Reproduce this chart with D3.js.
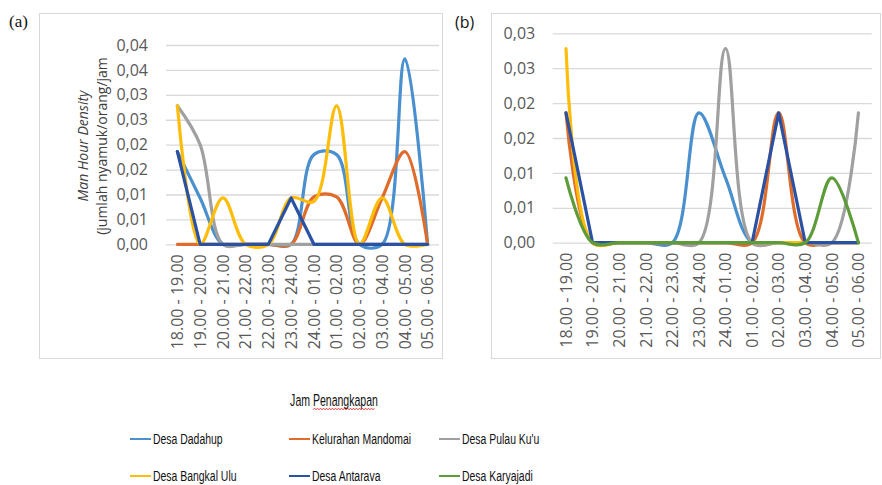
<!DOCTYPE html>
<html>
<head>
<meta charset="utf-8">
<script src="https://cdn.jsdelivr.net/npm/d3@7"></script>
<style>
  body { margin: 0; background: #fff; }
  svg { display: block; }
</style>
</head>
<body>
<svg id="chart" width="882" height="485"></svg>
<script>
// hour slots on the x axis
const categories = ["18.00 - 19.00", "19.00 - 20.00", "20.00 - 21.00", "21.00 - 22.00",
  "22.00 - 23.00", "23.00 - 24.00", "24.00 - 01.00", "01.00 - 02.00",
  "02.00 - 03.00", "03.00 - 04.00", "04.00 - 05.00", "05.00 - 06.00"];

const seriesNames = ["Desa Dadahup", "Kelurahan Mandomai", "Desa Pulau Ku'u",
  "Desa Bangkal Ulu", "Desa Antarava", "Desa Karyajadi"];

// panel (a)
const dadahupA    = [0.0186, 0.0093, 0, 0, 0, 0, 0.018, 0.018, 0, 0, 0.0372, 0];
const mandomaiA   = [0, 0, 0, 0, 0, 0, 0.0095, 0.0095, 0, 0.0093, 0.0186, 0];
const pulauKuuA   = [0.0278, 0.020, 0, 0, 0, 0, 0, 0, 0, 0, 0, 0];
const bangkalUluA = [0.0278, 0, 0.0093, 0, 0, 0.0093, 0.0086, 0.0278, 0, 0.0093, 0, 0];
const antaravaA   = [0.0186, 0, 0, 0, 0, 0.0093, 0, 0, 0, 0, 0, 0];

// panel (b) -- null = no value plotted for that hour
const dadahupB    = [null, 0, 0, 0, 0, 0.0186, 0.0093, 0, 0, 0, 0, 0];
const mandomaiB   = [0.0186, 0, 0, 0, 0, 0, 0, 0, 0.0186, 0, 0, 0];
const pulauKuuB   = [null, 0, 0, 0, 0, 0, 0.0278, 0, 0, 0, 0, 0.0186];
const bangkalUluB = [0.0278, 0, 0, 0, 0, 0, 0, 0, 0, 0, 0, 0];
const antaravaB   = [0.0186, 0, 0, 0, 0, 0, 0, 0, 0.0186, 0, 0, 0];
const karyajadiB  = [0.0093, 0, 0, 0, 0, 0, 0, 0, 0, 0, 0.0093, 0];

// y tick labels as Excel printed them (rounded to 2 decimals)
const tickLabelsA = ["0,00", "0,01", "0,01", "0,02", "0,02", "0,03", "0,03", "0,04", "0,04"];
const tickLabelsB = ["0,00", "0,01", "0,01", "0,02", "0,02", "0,03", "0,03"];

const colors = {
  "Desa Dadahup": "#4a8fce",
  "Kelurahan Mandomai": "#df6c2b",
  "Desa Pulau Ku'u": "#a0a0a0",
  "Desa Bangkal Ulu": "#fdbd0a",
  "Desa Antarava": "#2b51a2",
  "Desa Karyajadi": "#5e9b39"
};
// Antarava is drawn straight, the rest smoothed
const curves = {
  "Desa Antarava": d3.curveLinear
};

const svg = d3.select("#chart");

function drawPanel(cfg) {
  const g = svg.append("g");

  // chart frame
  g.append("rect")
    .attr("x", cfg.box[0] + 0.5).attr("y", cfg.box[1] + 0.5)
    .attr("width", cfg.box[2]).attr("height", cfg.box[3])
    .attr("fill", "#fff").attr("stroke", "#d9d9d9");

  g.append("text")
    .attr("x", cfg.tagPos[0]).attr("y", cfg.tagPos[1])
    .attr("font-family", cfg.tagFont).attr("font-size", cfg.tagSize)
    .attr("fill", "#111")
    .text(cfg.tag);

  const x = d3.scaleBand().domain(categories).range(cfg.xRange);
  const y = d3.scaleLinear().domain([0, cfg.yMax]).range(cfg.yRange);
  const tickVals = d3.range(cfg.tickLabels.length).map(i => i * 0.005);

  // gridlines
  g.append("g")
    .attr("transform", `translate(${cfg.xRange[0]},0)`)
    .call(d3.axisLeft(y).tickValues(tickVals).tickSize(-(cfg.xRange[1] - cfg.xRange[0])).tickFormat(""))
    .call(a => a.select(".domain").remove())
    .call(a => a.selectAll("line").attr("stroke", "#d9d9d9").attr("stroke-width", 1.3));

  // y labels
  g.append("g")
    .attr("transform", `translate(${cfg.xRange[0]},0)`)
    .call(d3.axisLeft(y).tickValues(tickVals).tickSize(0).tickPadding(cfg.yPad)
      .tickFormat((d, i) => cfg.tickLabels[i]))
    .call(a => a.select(".domain").remove())
    .call(a => a.selectAll("text")
      .attr("font-family", "'Open Sans', sans-serif")
      .attr("font-size", 16).attr("fill", "#595959"));

  // x labels, rotated
  g.append("g")
    .attr("transform", `translate(0,${cfg.yRange[0]})`)
    .call(d3.axisBottom(x).tickSize(0))
    .call(a => a.select(".domain").remove())
    .call(a => a.selectAll("text")
      .attr("transform", "rotate(-90)")
      .attr("text-anchor", "end")
      .attr("x", -10).attr("y", 0).attr("dy", "0.36em")
      .attr("font-family", "'Open Sans', sans-serif")
      .attr("font-size", 16).attr("fill", "#595959"));

  const cx = c => x(c) + x.bandwidth() / 2;

  cfg.series.forEach(s => {
    const line = d3.line()
      .defined(d => d !== null)
      .x((d, i) => cx(categories[i]))
      .y(d => y(d))
      .curve(curves[s.name] || d3.curveCatmullRom.alpha(0.5));
    g.append("path")
      .datum(s.values)
      .attr("d", line)
      .attr("fill", "none")
      .attr("stroke", colors[s.name])
      .attr("stroke-width", 3.2)
      .attr("stroke-linecap", "round")
      .attr("stroke-linejoin", "round");
  });

  return g;
}

// panel (a)
const gA = drawPanel({
  box: [39, 13, 403, 345],
  tag: "(a)", tagPos: [9, 27], tagFont: "'Liberation Serif', serif", tagSize: 17,
  xRange: [166, 439], yRange: [244.3, 45], yMax: 0.04, yPad: 18,
  tickLabels: tickLabelsA,
  series: [
    { name: "Desa Dadahup", values: dadahupA },
    { name: "Kelurahan Mandomai", values: mandomaiA },
    { name: "Desa Pulau Ku'u", values: pulauKuuA },
    { name: "Desa Bangkal Ulu", values: bangkalUluA },
    { name: "Desa Antarava", values: antaravaA }
  ]
});

// y axis title of (a)
const yt = gA.append("text")
  .attr("transform", "translate(88,146) rotate(-90)")
  .attr("text-anchor", "middle")
  .attr("font-family", "'Open Sans', sans-serif")
  .attr("font-size", 14).attr("fill", "#404040");
yt.append("tspan").attr("x", 0).attr("y", 0).attr("font-style", "italic").text("Man Hour Density");
yt.append("tspan").attr("x", 0).attr("y", 19).text("(jumlah nyamuk/orang/jam");

// panel (b)
drawPanel({
  box: [491, 13, 389, 345],
  tag: "(b)", tagPos: [455, 28], tagFont: "'Open Sans', sans-serif", tagSize: 16,
  xRange: [552.7, 871.7], yRange: [242.7, 33.3], yMax: 0.03, yPad: 17.5,
  tickLabels: tickLabelsB,
  series: [
    { name: "Desa Dadahup", values: dadahupB },
    { name: "Kelurahan Mandomai", values: mandomaiB },
    { name: "Desa Pulau Ku'u", values: pulauKuuB },
    { name: "Desa Bangkal Ulu", values: bangkalUluB },
    { name: "Desa Antarava", values: antaravaB },
    { name: "Desa Karyajadi", values: karyajadiB }
  ]
});

// shared x title (condensed face, squeezed horizontally)
svg.append("text")
  .attr("transform", "translate(334,406) scale(0.62,1)")
  .attr("text-anchor", "middle")
  .attr("font-family", "'Liberation Sans', sans-serif")
  .attr("font-size", 17).attr("fill", "#111")
  .text("Jam Penangkapan");

// spell-check squiggle under "Penangkapan"
const wave = d3.range(0, 63, 1.5);
svg.append("path")
  .attr("d", d3.line()(wave.map((d, i) => [313 + d, 409 + (i % 2 ? -0.9 : 0.9)])))
  .attr("fill", "none").attr("stroke", "#e02020").attr("stroke-width", 0.8);

// legend
const legendPos = [[130, 439], [289, 439], [439, 439], [130, 476], [289, 476], [439, 476]];
const lg = svg.append("g")
  .selectAll("g")
  .data(seriesNames)
  .join("g")
  .attr("transform", (d, i) => `translate(${legendPos[i][0]},${legendPos[i][1]})`);
lg.append("line")
  .attr("x1", 0).attr("x2", 21)
  .attr("stroke", d => colors[d]).attr("stroke-width", 2);
lg.append("text")
  .attr("transform", "translate(23,0) scale(0.72,1)")
  .attr("dy", "0.36em")
  .attr("font-family", "'Liberation Sans', sans-serif")
  .attr("font-size", 14.5).attr("fill", "#111")
  .text(d => d);
</script>
</body>
</html>
